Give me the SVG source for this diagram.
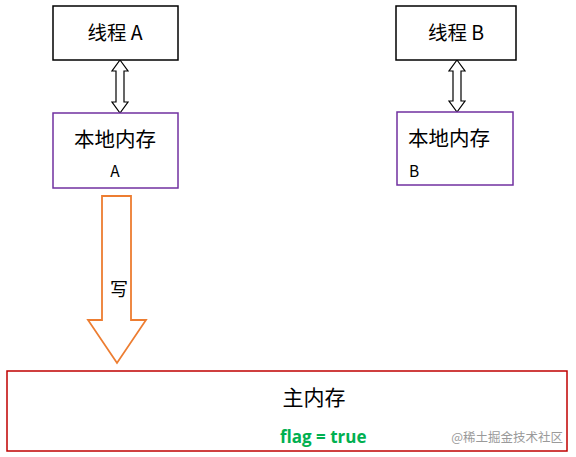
<svg xmlns="http://www.w3.org/2000/svg" width="576" height="457" viewBox="0 0 576 457">
<style>
.t{font-family:"Noto Sans CJK SC","Liberation Sans",sans-serif;fill:#000;}
.thread{fill:#fff;stroke:#000;stroke-width:1.5;}
.local{fill:#fff;stroke:#7030A0;stroke-width:1.5;}
.dbl{fill:#fff;stroke:#000;stroke-width:1.2;}
</style>
<rect width="576" height="457" fill="#fff"/>
<g id="connectors">
<path class="dbl" d="M120,60 L128,71 L124,71 L124,102 L128,102 L120,113 L112,102 L116,102 L116,71 L112,71 Z"/>
<path class="dbl" d="M457,60 L465,71 L461,71 L461,101 L465,101 L457,112 L449,101 L453,101 L453,71 L449,71 Z"/>
<g id="write-arrow">
<path d="M102,196 L131,196 L131,320 L146,320 L117,363 L88,320 L102,320 Z" fill="#fff" stroke="#ED7D31" stroke-width="1.8"/>
<text class="t" x="119" y="296" font-size="18" text-anchor="middle" fill="#333">写</text>
</g>
</g>
<g id="threadA">
<rect class="thread" x="53" y="6" width="125" height="54"/>
<text class="t" x="115" y="40" font-size="19.5" text-anchor="middle">线程 A</text>
</g>
<g id="threadB">
<rect class="thread" x="396" y="6" width="120" height="54"/>
<text class="t" x="456" y="40" font-size="19.5" text-anchor="middle">线程 B</text>
</g>
<g id="localA">
<rect class="local" x="53" y="113" width="125" height="75"/>
<text class="t" x="115" y="147" font-size="20.5" text-anchor="middle">本地内存</text>
<text class="t" x="115" y="177" font-size="15.5" text-anchor="middle">A</text>
</g>
<g id="localB">
<rect class="local" x="397" y="112" width="116" height="73"/>
<text class="t" x="408" y="146" font-size="20.5">本地内存</text>
<text class="t" x="409" y="177" font-size="15.5">B</text>
</g>
<g id="mainMemory">
<rect x="7" y="371" width="560" height="80" fill="#fff" stroke="#C00000" stroke-width="1.5"/>
<text class="t" x="314" y="405" font-size="21" text-anchor="middle">主内存</text>
<text x="280" y="443" font-size="17" font-weight="bold" font-family="'Open Sans','Liberation Sans',sans-serif" fill="#00B050">flag = true</text>
</g>
<text class="t" x="563" y="442" font-size="12.5" text-anchor="end" style="fill:#9a9a9a">@稀土掘金技术社区</text>
</svg>
